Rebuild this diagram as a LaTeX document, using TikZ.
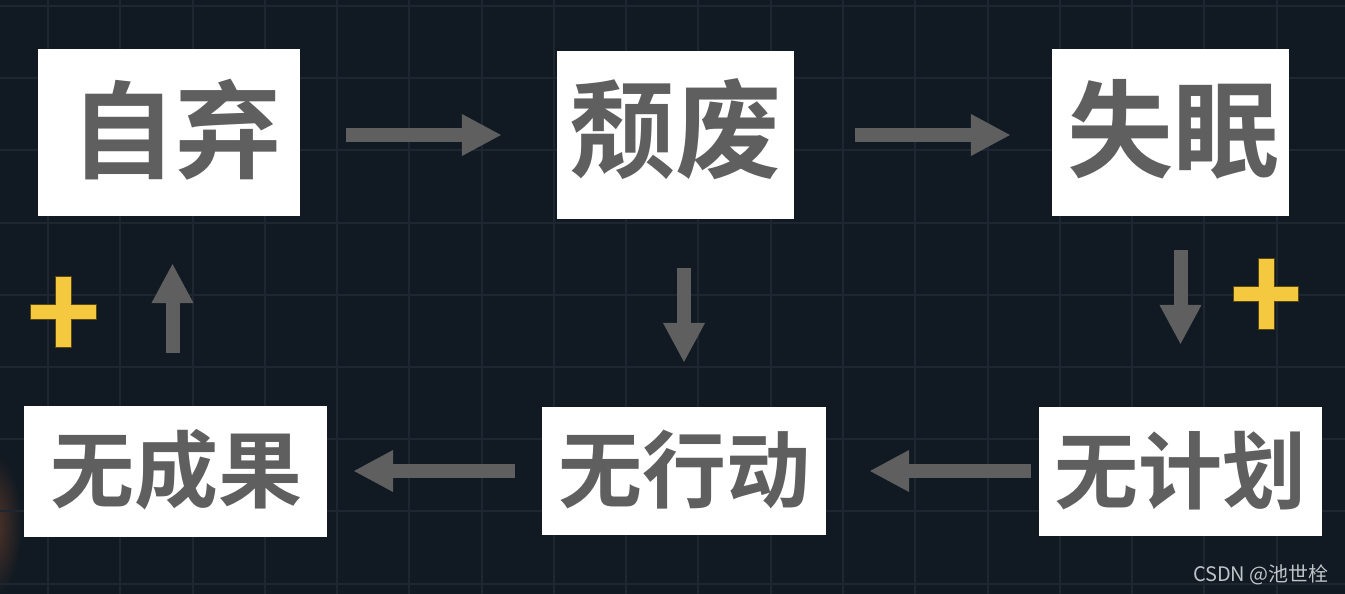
\documentclass[tikz,border=0pt]{standalone}
\usepackage{fontspec}
\newfontfamily\cjk{Noto Sans CJK SC}[BoldFont={Noto Sans CJK SC Bold}]
\usetikzlibrary{arrows.meta,calc}
\definecolor{bg}{HTML}{111A22}
\definecolor{gridc}{HTML}{1E2731}
\definecolor{ink}{HTML}{5F5F5F}
\definecolor{plusc}{HTML}{F5C93F}
\definecolor{plusedge}{HTML}{5A4712}
\definecolor{glow}{HTML}{553529}
\definecolor{wm}{HTML}{BFC3C7}
\tikzset{
  card/.style={fill=white, draw=none, inner sep=0pt},
  bigtext/.style={inner sep=0pt, text=ink, font=\cjk\bfseries\fontsize{106pt}{106pt}\selectfont},
  smalltext/.style={inner sep=0pt, text=ink, font=\cjk\bfseries\fontsize{84pt}{84pt}\selectfont},
  blk/.style={draw=ink, line width=14pt, -{Triangle[length=40pt,width=39pt]}},
  plus/.style={fill=plusc, draw=plusedge, line width=0.8pt},
}
\begin{document}
\begin{tikzpicture}[x=1pt,y=-1pt]
\useasboundingbox (0,0) rectangle (1345,594);
\fill[bg] (0,0) rectangle (1345,594);
\begin{scope}
\clip (0,0) rectangle (1345,594);
\shade[inner color=glow, outer color=bg] (-8,525) ellipse [x radius=30pt, y radius=72pt];
\foreach \i in {0,...,18} {
  \draw[gridc, line width=2pt] ({48+72.27*\i},0) -- ({48+72.27*\i},594);
}
\foreach \j in {0,...,8} {
  \draw[gridc, line width=2pt] (0,{6+72.2*\j}) -- (1345,{6+72.2*\j});
}
\end{scope}

\node[card, minimum width=262pt, minimum height=167pt] (a) at (169,132.5) {};
\node[card, minimum width=237pt, minimum height=168pt] (b) at (675.5,135) {};
\node[card, minimum width=237pt, minimum height=167pt] (c) at (1170.5,132.5) {};
\node[card, minimum width=283pt, minimum height=129pt] (d) at (1180.5,471.5) {};
\node[card, minimum width=284pt, minimum height=128pt] (e) at (684,471) {};
\node[card, minimum width=303pt, minimum height=131pt] (f) at (175.5,471.5) {};

\node[bigtext] (ta) at ([xshift=7pt,yshift=3pt]a.center) {自弃};
\node[bigtext] (tb) at ([yshift=6pt]b.center) {颓废};
\node[bigtext] (tc) at ([xshift=3pt,yshift=3pt]c.center) {失眠};
\node[smalltext] (td) at ([xshift=0pt,yshift=1pt]d.center) {无计划};
\node[smalltext] (te) at ([xshift=0pt,yshift=1pt]e.center) {无行动};
\node[smalltext] (tf) at ([xshift=1pt,yshift=2pt]f.center) {无成果};

\draw[blk] ([xshift=46pt,yshift=-2.5pt]a.east) -- ([xshift=-55pt]b.west);
\draw[blk] ([xshift=61pt]b.east) -- ([xshift=-41pt,yshift=-2.5pt]c.west);
\draw[blk] ([xshift=10pt,yshift=-34pt]c.south) -- ([yshift=62pt]d.north);
\draw[blk] ([xshift=8.5pt,yshift=-49pt]b.south) -- ([yshift=44pt]e.north);
\draw[blk] ([xshift=-8pt,yshift=0.5pt]d.west) -- ([xshift=43pt]e.east);
\draw[blk] ([xshift=-27pt]e.west) -- ([xshift=26pt,yshift=0.5pt]f.east);
\draw[blk] ([xshift=-3pt,yshift=53pt]f.north) -- ([xshift=3.5pt,yshift=-47pt]a.south);

\path[plus] (1258,258) -- (1274,258) -- (1274,286) -- (1298,286) -- (1298,301) -- (1274,301)
  -- (1274,329) -- (1258,329) -- (1258,301) -- (1233,301) -- (1233,286) -- (1258,286) -- cycle;
\path[plus] (55,276) -- (71,276) -- (71,304) -- (96,304) -- (96,319) -- (71,319)
  -- (71,347) -- (55,347) -- (55,319) -- (30,319) -- (30,304) -- (55,304) -- cycle;

\node[anchor=east, inner sep=0pt, text=wm, font=\cjk\fontsize{20pt}{20pt}\selectfont] (wmk) at (1329,575) {CSDN @池世栓};
\end{tikzpicture}
\end{document}
